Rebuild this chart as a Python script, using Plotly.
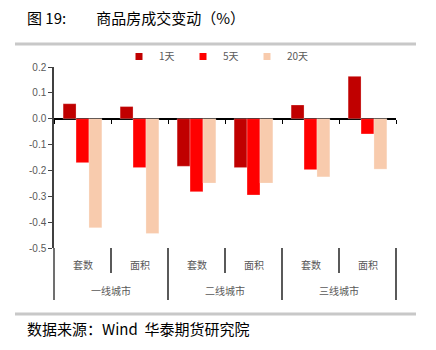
import plotly.graph_objects as go

groups = ["一线城市", "一线城市", "二线城市", "二线城市", "三线城市", "三线城市"]
subcats = ["套数", "面积", "套数", "面积", "套数", "面积"]
group_names = ["一线城市", "二线城市", "三线城市"]
series_names = ["1天", "5天", "20天"]
v_1d = [0.058, 0.047, -0.184, -0.189, 0.053, 0.164]
v_5d = [-0.170, -0.189, -0.282, -0.295, -0.197, -0.059]
v_20d = [-0.422, -0.444, -0.249, -0.249, -0.225, -0.195]
colors = ["#C00000", "#FF0000", "#F8CBAD"]
y_tickvals = [0.2, 0.1, 0.0, -0.1, -0.2, -0.3, -0.4, -0.5]
y_ticktext = ["0.2", "0.1", "0.0", "-0.1", "-0.2", "-0.3", "-0.4", "-0.5"]
y_range = [-0.5, 0.2]

FONT = "Noto Sans CJK SC"
GRAY = "#595959"

fig = go.Figure()
for name, vals, c in zip(series_names, [v_1d, v_5d, v_20d], colors):
    fig.add_trace(go.Bar(
        x=[groups, subcats], y=vals, name=name, showlegend=False,
        marker=dict(color=c, line=dict(color="rgba(255,255,255,0.5)", width=0.5)),
    ))
# legend-only entries with small square symbols
for name, c in zip(series_names, colors):
    fig.add_trace(go.Scatter(x=[None], y=[None], mode="markers", name=name,
                             marker=dict(symbol="square", size=7, color=c)))

ncat = len(subcats)
per_group = ncat // len(group_names)

W, H = 436, 350
ml, mr, mt, mb = 54, 40, 67, 102
pw, ph = W - ml - mr, H - mt - mb

def px(x):
    return (x - ml) / pw

def py(y):
    return (H - mb - y) / ph

shapes = [
    dict(type="line", xref="paper", yref="paper", x0=px(15), x1=px(416), y0=py(44), y1=py(44),
         line=dict(color="#C8C8C8", width=3)),
    dict(type="line", xref="paper", yref="paper", x0=px(15), x1=px(416), y0=py(314), y1=py(314),
         line=dict(color="#C8C8C8", width=3)),
]
# label-area separators at category boundaries
for b in range(ncat + 1):
    xb = b / ncat
    long_ = (b % per_group == 0)
    shapes.append(dict(type="line", xref="paper", yref="paper", x0=xb, x1=xb,
                       y0=0, y1=py(300 if long_ else 273),
                       line=dict(color="#404040" if b == 0 else "#000000",
                                 width=1.5 if b == 0 else 1.3)))

annotations = [
    dict(text="图 19:　　商品房成交变动（%）", xref="paper", yref="paper", x=px(25), y=py(17),
         xanchor="left", yanchor="middle", showarrow=False,
         font=dict(family=FONT, size=15, color="#000000")),
    dict(text="数据来源：Wind  华泰期货研究院", xref="paper", yref="paper", x=px(25), y=py(328),
         xanchor="left", yanchor="middle", showarrow=False,
         font=dict(family=FONT, size=15, color="#000000")),
]
for i, s in enumerate(subcats):
    annotations.append(dict(text=s, xref="paper", yref="paper", x=(i + 0.5) / ncat, y=py(264),
                            xanchor="center", yanchor="middle", showarrow=False,
                            font=dict(family=FONT, size=10, color=GRAY)))
for g, name in enumerate(group_names):
    annotations.append(dict(text=name, xref="paper", yref="paper",
                            x=(g + 0.5) / len(group_names), y=py(290),
                            xanchor="center", yanchor="middle", showarrow=False,
                            font=dict(family=FONT, size=10, color=GRAY)))

fig.update_layout(
    width=W, height=H,
    margin=dict(l=ml, r=mr, t=mt, b=mb),
    paper_bgcolor="white", plot_bgcolor="white",
    barmode="group", bargap=0.32, bargroupgap=0,
    font=dict(family=FONT, size=10, color=GRAY),
    showlegend=True,
    legend=dict(orientation="h", x=px(119), y=py(42), xanchor="left", yanchor="top",
                entrywidth=19, entrywidthmode="pixels",
                font=dict(size=10, color=GRAY), itemwidth=30,
                bgcolor="rgba(0,0,0,0)"),
    xaxis=dict(type="multicategory", anchor="free",
               position=(0 - y_range[0]) / (y_range[1] - y_range[0]),
               showline=False, ticks="outside", tickson="boundaries",
               ticklen=4, tickcolor="#000000", tickwidth=1.3,
               showticklabels=False, showdividers=False, showgrid=False, automargin=False),
    yaxis=dict(range=y_range, tickvals=y_tickvals, ticktext=y_ticktext,
               ticks="outside", ticklen=4, tickcolor="#404040",
               showline=True, linecolor="#404040", linewidth=1.5,
               showgrid=False, zeroline=True, zerolinecolor="#000000", zerolinewidth=1.5,
               tickfont=dict(size=10, color=GRAY, family="Liberation Sans")),
    shapes=shapes,
    annotations=annotations,
)

fig.write_html("out.html")
